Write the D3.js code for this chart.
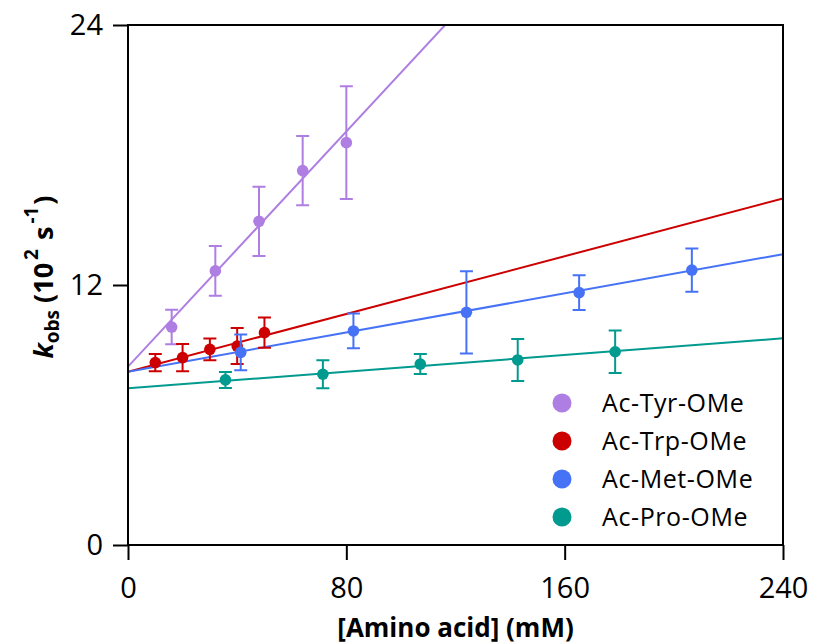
<!DOCTYPE html>
<html>
<head>
<meta charset="utf-8">
<script src="https://cdn.jsdelivr.net/npm/d3@7"></script>
<style>
  html, body { margin: 0; padding: 0; background: #fff; }
  svg { display: block; }
  text { font-family: "Open Sans", sans-serif; fill: #000; }
</style>
</head>
<body>
<svg id="chart" width="813" height="644"></svg>
<script>
// ---- data ----
const seriesNames = ["Ac-Tyr-OMe", "Ac-Trp-OMe", "Ac-Met-OMe", "Ac-Pro-OMe"];
const seriesColors = ["#ae7ee2", "#cc0000", "#4672f6", "#009a8e"];

const tyrX = [16, 32, 48, 64, 80];
const tyrY = [10.06, 12.65, 14.94, 17.28, 18.57];
const tyrErr = [0.8, 1.15, 1.6, 1.6, 2.6];

const trpX = [10, 20, 30, 40, 50];
const trpY = [8.42, 8.65, 9.03, 9.18, 9.8];
const trpErr = [0.4, 0.63, 0.5, 0.83, 0.7];

const metX = [41.3, 82.6, 124, 165.3, 206.6];
const metY = [8.89, 9.88, 10.74, 11.65, 12.69];
const metErr = [0.82, 0.8, 1.9, 0.8, 1.0];

const proX = [35.7, 71.4, 107.1, 142.8, 178.5];
const proY = [7.62, 7.88, 8.35, 8.54, 8.92];
const proErr = [0.37, 0.65, 0.46, 0.97, 0.98];

// linear fits (intercept, slope)
const fitIntercepts = [8.23, 8.0, 8.0, 7.23];
const fitSlopes = [0.1357, 0.0333, 0.0226, 0.00963];

const xTicks = [0, 80, 160, 240];
const yTicks = [0, 12, 24];
const xDomain = [0, 240];
const yDomain = [0, 24];

// ---- layout ----
const W = 813, H = 644;
const margin = {left: 128, right: 30, top: 25, bottom: 99};
const pw = W - margin.left - margin.right;
const ph = H - margin.top - margin.bottom;

const svg = d3.select("#chart");
const x = d3.scaleLinear().domain(xDomain).range([margin.left, margin.left + pw]);
const y = d3.scaleLinear().domain(yDomain).range([margin.top + ph, margin.top]);

svg.append("defs").append("clipPath").attr("id", "clip")
  .append("rect").attr("x", margin.left).attr("y", margin.top).attr("width", pw).attr("height", ph);

const series = [
  {x: tyrX, y: tyrY, e: tyrErr},
  {x: trpX, y: trpY, e: trpErr},
  {x: metX, y: metY, e: metErr},
  {x: proX, y: proY, e: proErr}
].map((s, i) => ({...s, name: seriesNames[i], color: seriesColors[i], b: fitIntercepts[i], m: fitSlopes[i]}));

// fit lines
const lineGen = d3.line().x(d => x(d[0])).y(d => y(d[1]));
const linesG = svg.append("g").attr("clip-path", "url(#clip)");
series.forEach(s => {
  const pts = xDomain.map(v => [v, s.b + s.m * v]);
  linesG.append("path").attr("d", lineGen(pts))
    .attr("fill", "none").attr("stroke", s.color).attr("stroke-width", 2);
});

// error bars and points
const cap = 6.5;
series.forEach(s => {
  const g = svg.append("g");
  const pts = s.x.map((v, i) => ({x: v, y: s.y[i], e: s.e[i]}));
  g.selectAll("path.err").data(pts).enter().append("path")
    .attr("d", d => {
      const cx = x(d.x), t = y(d.y + d.e), b = y(d.y - d.e);
      return `M${cx},${t}V${b}M${cx - cap},${t}H${cx + cap}M${cx - cap},${b}H${cx + cap}`;
    })
    .attr("fill", "none").attr("stroke", s.color).attr("stroke-width", 2);
  g.selectAll("circle").data(pts).enter().append("circle")
    .attr("cx", d => x(d.x)).attr("cy", d => y(d.y)).attr("r", 5.8)
    .attr("fill", s.color);
});

// frame
svg.append("rect").attr("x", margin.left).attr("y", margin.top).attr("width", pw).attr("height", ph)
  .attr("fill", "none").attr("stroke", "#000").attr("stroke-width", 2);

// axes
const xAxis = svg.append("g").attr("transform", `translate(0,${margin.top + ph})`)
  .call(d3.axisBottom(x).tickValues(xTicks).tickSize(15).tickSizeOuter(0).tickPadding(17).tickFormat(d3.format("d")));
const yAxis = svg.append("g").attr("transform", `translate(${margin.left},0)`)
  .call(d3.axisLeft(y).tickValues(yTicks).tickSize(15).tickSizeOuter(0).tickPadding(10).tickFormat(d3.format("d")));
[xAxis, yAxis].forEach(a => {
  a.select(".domain").remove();
  a.selectAll(".tick line").attr("stroke", "#000").attr("stroke-width", 2);
  a.selectAll(".tick text").attr("font-size", 29).attr("font-family", "Open Sans, sans-serif").attr("fill", "#000");
});

// axis titles
svg.append("text").attr("x", margin.left + pw / 2).attr("y", 637)
  .attr("text-anchor", "middle").attr("font-size", 26).attr("font-weight", "bold")
  .text("[Amino acid] (mM)");

const yt = svg.append("text").attr("transform", `translate(53,277) rotate(-90)`)
  .attr("text-anchor", "middle").attr("font-size", 27).attr("font-weight", "bold");
yt.append("tspan").attr("font-style", "italic").text("k");
yt.append("tspan").attr("font-size", 19).attr("dy", 6).text("obs");
yt.append("tspan").attr("dy", -6).text(" (10");
yt.append("tspan").attr("font-size", 19).attr("dy", -15).attr("dx", 3).text("2");
yt.append("tspan").attr("dy", 15).attr("dx", 2).text(" s");
yt.append("tspan").attr("font-size", 19).attr("dy", -15).attr("dx", 3).text("-1");
yt.append("tspan").attr("dy", 15).attr("dx", 2).text(")");

// legend
const legend = svg.append("g");
series.forEach((s, i) => {
  const ly = 403 + i * 38;
  legend.append("circle").attr("cx", 562).attr("cy", ly).attr("r", 9.5).attr("fill", s.color);
  legend.append("text").attr("x", 602).attr("y", ly).attr("dy", "0.36em")
    .attr("font-size", 25).attr("letter-spacing", 0.6).text(s.name);
});
</script>
</body>
</html>
